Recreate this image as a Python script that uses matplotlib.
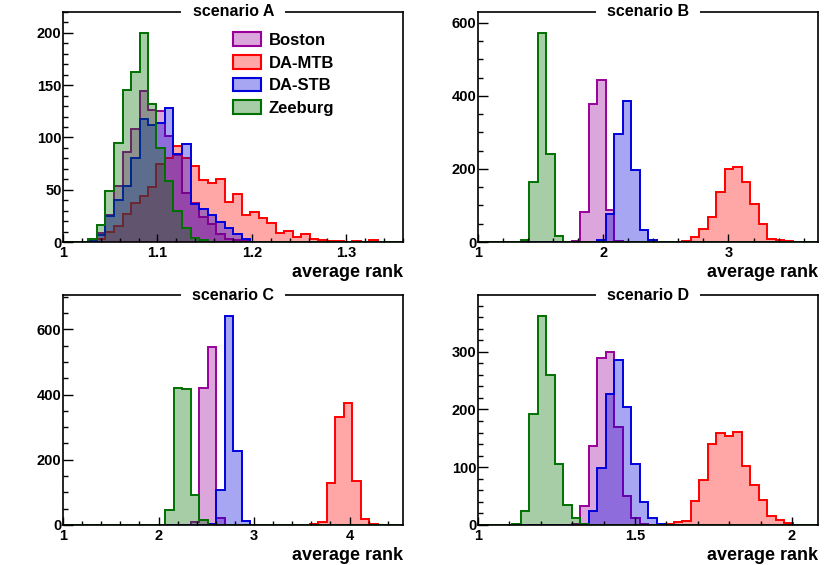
import numpy as np
import matplotlib
matplotlib.use('Agg')
import matplotlib.pyplot as plt
from matplotlib.patches import Patch
from matplotlib.ticker import MultipleLocator, FuncFormatter
from matplotlib.colors import to_rgba

plt.rcParams['font.family'] = ['Liberation Sans', 'DejaVu Sans']
plt.rcParams['font.weight'] = 'bold'

names = ['Boston', 'DA-MTB', 'DA-STB', 'Zeeburg']
scenarios = ['scenario A', 'scenario B', 'scenario C', 'scenario D']

# 40 bins per histogram, range [1, xmax]
x_max = [1.36, 3.715, 4.56, 2.083]

A_boston = [0, 0, 0, 2, 9, 26, 54, 86, 108, 144,
            126, 125, 101, 83, 47, 37, 24, 17, 8, 3,
            2, 1, 0, 0, 0, 0, 0, 0, 0, 0,
            0, 0, 0, 0, 0, 0, 0, 0, 0, 0]
A_mtb = [0, 0, 0, 1, 3, 10, 15, 27, 37, 44,
         53, 75, 80, 92, 80, 73, 59, 56, 60, 38,
         46, 26, 29, 23, 18, 9, 11, 5, 8, 3,
         2, 1, 1, 0, 1, 0, 2, 0, 0, 0]
A_stb = [0, 0, 0, 1, 7, 25, 40, 54, 80, 118,
         112, 114, 128, 84, 94, 36, 32, 26, 19, 13,
         8, 3, 0, 0, 0, 0, 0, 0, 0, 0,
         0, 0, 0, 0, 0, 0, 0, 0, 0, 0]
A_zee = [0, 0, 0, 3, 16, 49, 95, 145, 163, 200,
         132, 90, 58, 30, 13, 4, 2, 0, 0, 0,
         0, 0, 0, 0, 0, 0, 0, 0, 0, 0,
         0, 0, 0, 0, 0, 0, 0, 0, 0, 0]

B_boston = [0, 0, 0, 0, 0, 0, 0, 0, 0, 0,
            0, 3, 82, 378, 444, 87, 4, 0, 0, 0,
            0, 0, 0, 0, 0, 0, 0, 0, 0, 0,
            0, 0, 0, 0, 0, 0, 0, 0, 0, 0]
B_mtb = [0, 0, 0, 0, 0, 0, 0, 0, 0, 0,
         0, 0, 0, 0, 0, 0, 0, 0, 0, 0,
         0, 0, 0, 0, 3, 15, 36, 69, 137, 201,
         205, 164, 104, 48, 9, 5, 2, 0, 0, 0]
B_stb = [0, 0, 0, 0, 0, 0, 0, 0, 0, 0,
         0, 0, 0, 1, 5, 76, 295, 385, 198, 33,
         5, 0, 0, 0, 0, 0, 0, 0, 0, 0,
         0, 0, 0, 0, 0, 0, 0, 0, 0, 0]
B_zee = [0, 0, 0, 0, 0, 6, 165, 572, 240, 17,
         0, 0, 0, 0, 0, 0, 0, 0, 0, 0,
         0, 0, 0, 0, 0, 0, 0, 0, 0, 0,
         0, 0, 0, 0, 0, 0, 0, 0, 0, 0]

C_boston = [0, 0, 0, 0, 0, 0, 0, 0, 0, 0,
            0, 0, 0, 0, 0, 10, 419, 547, 20, 0,
            0, 0, 0, 0, 0, 0, 0, 0, 0, 0,
            0, 0, 0, 0, 0, 0, 0, 0, 0, 0]
C_mtb = [0, 0, 0, 0, 0, 0, 0, 0, 0, 0,
         0, 0, 0, 0, 0, 0, 0, 0, 0, 0,
         0, 0, 0, 0, 0, 0, 0, 0, 0, 2,
         9, 128, 331, 373, 134, 18, 2, 0, 0, 0]
C_stb = [0, 0, 0, 0, 0, 0, 0, 0, 0, 0,
         0, 0, 0, 0, 0, 0, 0, 4, 108, 641,
         228, 12, 0, 0, 0, 0, 0, 0, 0, 0,
         0, 0, 0, 0, 0, 0, 0, 0, 0, 0]
C_zee = [0, 0, 0, 0, 0, 0, 0, 0, 0, 0,
         0, 0, 47, 421, 418, 92, 14, 0, 0, 0,
         0, 0, 0, 0, 0, 0, 0, 0, 0, 0,
         0, 0, 0, 0, 0, 0, 0, 0, 0, 0]

D_boston = [0, 0, 0, 0, 0, 0, 0, 0, 0, 0,
            0, 2, 33, 137, 289, 299, 170, 50, 12, 2,
            0, 0, 0, 0, 0, 0, 0, 0, 0, 0,
            0, 0, 0, 0, 0, 0, 0, 0, 0, 0]
D_mtb = [0, 0, 0, 0, 0, 0, 0, 0, 0, 0,
         0, 0, 0, 0, 0, 0, 0, 0, 0, 0,
         0, 0, 2, 5, 7, 41, 78, 141, 160, 154,
         161, 103, 69, 43, 16, 9, 3, 0, 0, 0]
D_stb = [0, 0, 0, 0, 0, 0, 0, 0, 0, 0,
         0, 0, 2, 25, 99, 226, 286, 205, 106, 40,
         12, 2, 0, 0, 0, 0, 0, 0, 0, 0,
         0, 0, 0, 0, 0, 0, 0, 0, 0, 0]
D_zee = [0, 0, 0, 0, 1, 25, 192, 362, 259, 105,
         35, 12, 2, 0, 0, 0, 0, 0, 0, 0,
         0, 0, 0, 0, 0, 0, 0, 0, 0, 0,
         0, 0, 0, 0, 0, 0, 0, 0, 0, 0]

hists = [[A_boston, A_mtb, A_stb, A_zee],
         [B_boston, B_mtb, B_stb, B_zee],
         [C_boston, C_mtb, C_stb, C_zee],
         [D_boston, D_mtb, D_stb, D_zee]]

line_cols = ['#990099', '#ff0000', '#0000dd', '#007000']
fill_alpha = 0.35

x_major = [0.1, 1, 1, 0.5]
x_minor = [0.02, 0.2, 0.2, 0.1]
y_major = [50, 200, 200, 100]
y_minor = [10, 50, 50, 20]

fig = plt.figure(figsize=(8.3, 5.65), dpi=100)
W, H = 830, 565
boxes = [(63, 12), (478, 12), (63, 295), (478, 295)]
aw, ah = 340, 230

for i, (px, py) in enumerate(boxes):
    ax = fig.add_axes([px / W, 1 - (py + ah) / H, aw / W, ah / H])
    edges = np.linspace(1, x_max[i], 41)
    for vals, col in zip(hists[i], line_cols):
        ax.stairs(vals, edges, baseline=0, fill=True,
                  facecolor=to_rgba(col, fill_alpha), edgecolor=col, linewidth=1.4)
    ymax = 1.1 * max(max(h) for h in hists[i])
    ax.set_xlim(1, x_max[i])
    ax.set_ylim(0, ymax)

    ax.xaxis.set_major_locator(MultipleLocator(x_major[i]))
    ax.xaxis.set_minor_locator(MultipleLocator(x_minor[i]))
    ax.yaxis.set_major_locator(MultipleLocator(y_major[i]))
    ax.yaxis.set_minor_locator(MultipleLocator(y_minor[i]))
    ax.xaxis.set_major_formatter(FuncFormatter(lambda v, p: '%g' % round(v, 3)))
    ax.tick_params(axis='x', which='major', direction='in', length=6, width=1, pad=3, labelsize=10.5)
    ax.tick_params(axis='x', which='minor', direction='in', length=3, width=1)
    ax.tick_params(axis='y', which='major', direction='in', length=7, width=1, pad=1, labelsize=10.5)
    ax.tick_params(axis='y', which='minor', direction='in', length=3.5, width=1)
    for s in ax.spines.values():
        s.set_linewidth(1.2)

    ax.set_xlabel('average rank', loc='right', fontsize=13, fontweight='bold', labelpad=3)
    ax.text(0.5, 1.0, '  ' + scenarios[i] + '  ', transform=ax.transAxes, ha='center', va='center',
            fontsize=11.5, fontweight='bold', zorder=10, clip_on=False,
            bbox=dict(boxstyle='square,pad=0.15', fc='white', ec='none'))

    if i == 0:
        handles = [Patch(facecolor=to_rgba(c, fill_alpha), edgecolor=c, linewidth=1.5) for c in line_cols]
        ax.legend(handles, names, loc='upper left', bbox_to_anchor=(0.50, 0.912), frameon=False,
                  fontsize=12, handlelength=1.7, handleheight=0.9, handletextpad=0.45,
                  labelspacing=0.42, borderpad=0, borderaxespad=0)

fig.savefig('out.png', dpi=100)
